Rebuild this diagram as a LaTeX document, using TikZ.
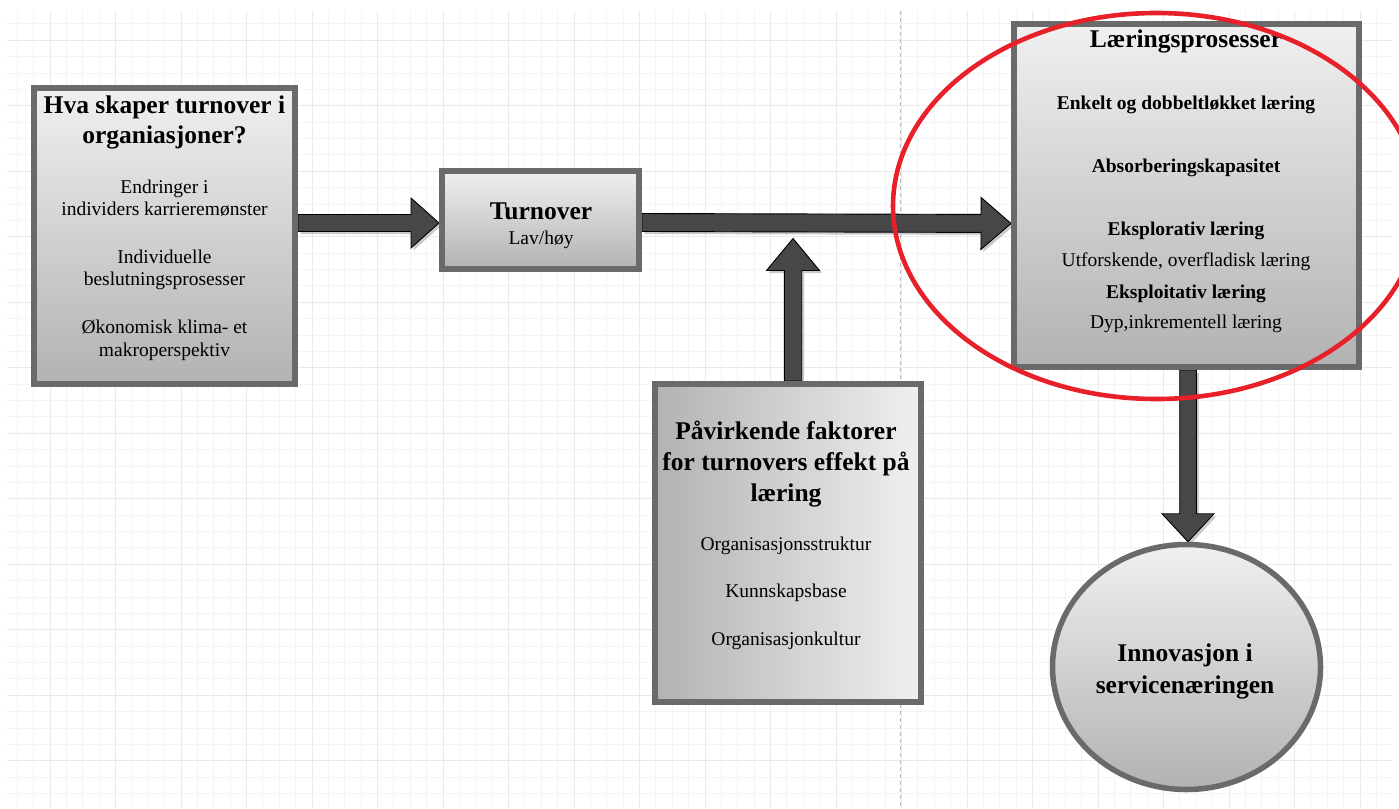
\documentclass[tikz,border=0pt]{standalone}
\usepackage{fontspec}
\setmainfont{Liberation Serif}
\usetikzlibrary{calc,shapes.geometric}

\definecolor{boxedge}{HTML}{6A6A6A}
\definecolor{arrowfill}{HTML}{474747}
\definecolor{gridminor}{HTML}{F4F4F4}
\definecolor{gridmajor}{HTML}{EAEAEA}
\definecolor{guide}{HTML}{BDBDBD}
\definecolor{ringred}{HTML}{E8202A}
\definecolor{shadelight}{HTML}{F0F0F0}
\definecolor{shadedark}{HTML}{B2B2B2}

\pgfdeclarelayer{grid}
\pgfdeclarelayer{arrows}
\pgfsetlayers{grid,arrows,main}

\tikzset{
  panel/.style={rectangle, draw=boxedge, line width=6pt, inner sep=0pt},
  vshade/.style={top color=shadelight, bottom color=shadedark},
  hshade/.style={left color=shadedark, right color=shadelight},
  ttl/.style={font=\fontsize{25.5}{30}\selectfont\bfseries, anchor=base, inner sep=0pt},
  txt/.style={font=\fontsize{19.5}{22}\selectfont, anchor=base, inner sep=0pt},
  txtb/.style={font=\fontsize{19.5}{22}\selectfont\bfseries, anchor=base, inner sep=0pt},
  arrowbody/.style={fill=arrowfill, draw=black, line width=0.9pt, line join=miter},
  arrowshadow/.style={fill=black!45, opacity=0.45},
  gridthin/.style={draw=gridminor, line width=1pt},
  gridthick/.style={draw=gridmajor, line width=1pt},
}

% block arrow: #1 start, #2 tip, #3 shaft half width, #4 head half width, #5 head length
\newcommand{\blockarr}[5]{%
  \coordinate (ba-s) at #1;
  \coordinate (ba-t) at #2;
  \coordinate (ba-h) at ($(ba-t)!#5!(ba-s)$);
  \coordinate (ba1) at ($(ba-s)!#3!90:(ba-t)$);
  \coordinate (ba2) at ($(ba-h)!#3!90:(ba-t)$);
  \coordinate (ba3) at ($(ba-h)!#4!90:(ba-t)$);
  \coordinate (ba5) at ($(ba-h)!#4!-90:(ba-t)$);
  \coordinate (ba6) at ($(ba-h)!#3!-90:(ba-t)$);
  \coordinate (ba7) at ($(ba-s)!#3!-90:(ba-t)$);
  \fill[arrowshadow, transform canvas={shift={(2.5pt,-2.5pt)}}]
    (ba1) -- (ba2) -- (ba3) -- (ba-t) -- (ba5) -- (ba6) -- (ba7) -- cycle;
  \draw[arrowbody]
    (ba1) -- (ba2) -- (ba3) -- (ba-t) -- (ba5) -- (ba6) -- (ba7) -- cycle;
}

\begin{document}
\begin{tikzpicture}[x=1pt, y=-1pt]
  \useasboundingbox (0,0) rectangle (1399,808);

  % squared paper and the page guide
  \begin{pgfonlayer}{grid}
    \fill[white] (0,0) rectangle (1399,808);
    \foreach \i in {-2,...,81}
      \draw[gridthin] ({50+16.375*\i},11) -- ({50+16.375*\i},808);
    \foreach \j in {-1,...,46}
      \draw[gridthin] (7,{40.3+16.375*\j}) -- (1392,{40.3+16.375*\j});
    \foreach \i in {0,...,20}
      \draw[gridthick] ({50+65.5*\i},11) -- ({50+65.5*\i},808);
    \foreach \j in {0,...,11}
      \draw[gridthick] (7,{40.3+65.5*\j}) -- (1392,{40.3+65.5*\j});
    \draw[guide, line width=1pt, dash pattern=on 4pt off 3pt] (900,11) -- (900,808);
  \end{pgfonlayer}

  % boxes
  \node[panel, vshade, minimum width=261pt, minimum height=296pt] (causes) at (164.5,236) {};
  \node[panel, vshade, minimum width=197pt, minimum height=98pt] (turn) at (540.5,220) {};
  \node[panel, vshade, minimum width=345pt, minimum height=343pt] (learn) at (1186.5,195.5) {};
  \node[panel, hshade, minimum width=266pt, minimum height=318pt] (factors) at (788,543) {};
  \node[ellipse, draw=boxedge, line width=5.5pt, vshade, inner sep=0pt,
        minimum width=268pt, minimum height=245pt] (innov) at (1186.5,667) {};
  \coordinate (join) at (793,238.5);

  % connectors
  \begin{pgfonlayer}{arrows}
    \blockarr{($(causes.east |- turn.west)+(0,3)$)}{($(turn.west)+(0,3)$)}{8.5pt}{25pt}{28pt}
    \blockarr{($(turn.east)+(0,2.5)$)}{($(learn.west |- turn.east)+(0,3.5)$)}{9pt}{26pt}{30pt}
    \blockarr{($(factors.north)+(5,0)$)}{(join)}{8.7pt}{26.5pt}{32pt}
    \blockarr{($(learn.south)+(1.5,0)$)}{($(innov.north)+(1.5,0)$)}{8.3pt}{26pt}{28pt}
  \end{pgfonlayer}

  % left box text
  \node[ttl] (c1) at (164.5,113) {Hva skaper turnover i};
  \node[ttl] (c2) at (164.5,143) {organiasjoner?};
  \node[txt] (c3) at (164.5,193) {Endringer i};
  \node[txt] (c4) at (164.5,215) {individers karrieremønster};
  \node[txt] (c5) at (164.5,263) {Individuelle};
  \node[txt] (c6) at (164.5,285) {beslutningsprosesser};
  \node[txt] (c7) at (164.5,333.5) {Økonomisk klima- et};
  \node[txt] (c8) at (164.5,356.5) {makroperspektiv};

  % turnover text
  \node[ttl] (t1) at (541,219) {Turnover};
  \node[txt] (t2) at (541,244) {Lav/høy};

  % learning processes text
  \node[ttl] (p1) at (1186,48) {Læringsprosesser};
  \node[txtb] (p2) at (1186,109) {Enkelt og dobbeltløkket læring};
  \node[txtb] (p3) at (1186,172) {Absorberingskapasitet};
  \node[txtb] (p4) at (1186,235) {Eksplorativ læring};
  \node[txt] (p5) at (1186,266.5) {Utforskende, overfladisk læring};
  \node[txtb] (p6) at (1186,298) {Eksploitativ læring};
  \node[txt] (p7) at (1186,328) {Dyp,inkrementell læring};

  % influencing factors text
  \node[ttl] (f1) at (786,439) {Påvirkende faktorer};
  \node[ttl] (f2) at (786,470) {for turnovers effekt på};
  \node[ttl] (f3) at (786,501) {læring};
  \node[txt] (f4) at (786,550.5) {Organisasjonsstruktur};
  \node[txt] (f5) at (786,597.5) {Kunnskapsbase};
  \node[txt] (f6) at (786,645) {Organisasjonkultur};

  % innovation text
  \node[ttl] (i1) at (1185,661.5) {Innovasjon i};
  \node[ttl] (i2) at (1185,693) {servicenæringen};

  % highlight ring
  \draw[ringred, line width=4.6pt] (1156.4,206) ellipse [x radius=263.4, y radius=193];
\end{tikzpicture}
\end{document}
